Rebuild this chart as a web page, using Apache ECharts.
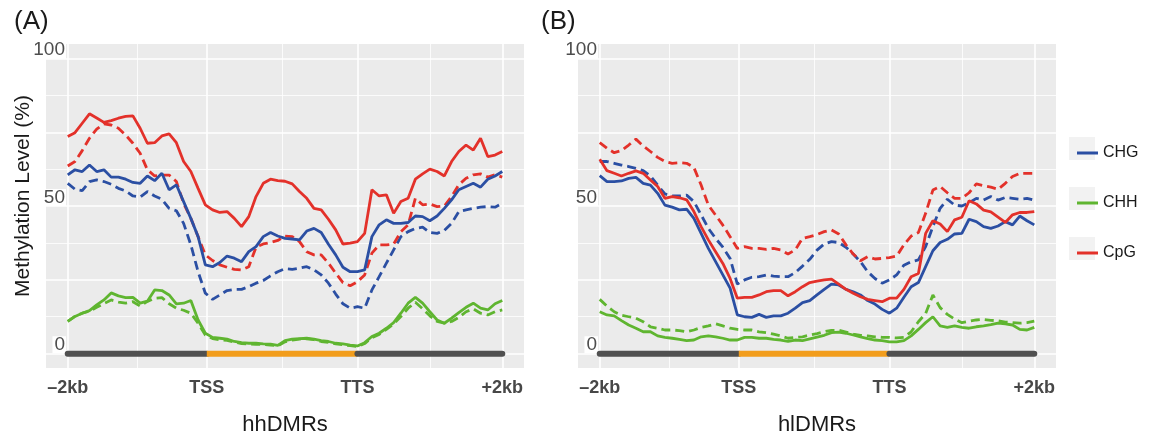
<!DOCTYPE html>
<html lang="en">
<head>
  <meta charset="UTF-8">
  <title>Methylation profile</title>
  <script src="https://cdn.jsdelivr.net/npm/echarts@6.0.0/dist/echarts.min.js"></script>
  <style>
    html, body{margin: 0;padding: 0;background: #fff;}
    #main{width: 1150px;height: 437px;}
  </style>
</head>
<body>
  <div id="main"></div>
  <script>
    // bins from -2kb (0) to +2kb (60)
    var bins = [0,1,2,3,4,5,6,7,8,9,10,11,12,13,14,15,16,17,18,19,20,21,22,23,24,25,26,27,28,29,30,
      31,32,33,34,35,36,37,38,39,40,41,42,43,44,45,46,47,48,49,50,51,52,53,54,55,56,57,58,59,60];
    var xTickPos = [0, 19.2, 40, 60];
    var xTickText = ['\u20132kb', 'TSS', 'TTS', '+2kb'];
    var yTickPos = [0, 50, 100];
    var contexts = ['CHG', 'CHH', 'CpG'];
    var genePartFrom = [0, 19.2, 40];
    var genePartTo = [19.2, 40, 60];
    var genePartType = ['flank', 'body', 'flank'];

    // (A) hhDMRs
    var hhChg = [60.6,62.3,61.7,63.9,61.7,62.3,59.8,59.8,59.1,58.0,57.7,60.2,58.6,61.1,55.5,57.2,51.5,45.8,39.6,30.0,29.4,30.8,33.0,32.3,31.1,34.5,36.2,39.6,41.0,39.8,39.0,
      38.8,38.5,41.5,42.4,41.0,37.0,33.4,29.2,27.7,27.7,28.3,39.6,43.6,45.3,44.1,44.1,44.4,46.6,46.4,45.0,46.6,49.2,52.1,55.5,56.6,57.7,56.4,59.1,60.2,61.7];
    var hhChgDash = [57.7,55.7,55.2,58.3,58.9,58.3,57.4,56.0,55.1,53.4,53.0,54.9,53.4,52.3,49.2,48.4,44.1,36.8,27.7,20.4,18.3,19.8,21.3,21.7,21.7,22.6,23.8,24.7,26.3,27.7,28.7,
      28.5,28.9,29.4,28.3,26.6,23.8,20.1,16.8,15.3,15.8,15.3,21.5,26.0,30.6,35.1,39.6,41.3,42.4,42.8,41.0,40.7,41.7,44.1,48.1,48.7,49.2,49.6,49.8,49.6,50.9];
    var hhChh = [10.8,12.5,13.6,14.5,16.4,18.1,20.5,19.5,18.9,19.0,17.0,17.7,21.5,21.3,19.8,16.8,17.0,17.9,11.3,6.8,5.4,5.1,4.8,4.0,3.6,3.4,3.4,3.2,3.1,2.7,4.3,
      4.8,5.0,5.1,4.8,4.3,4.0,3.4,3.2,2.8,2.5,3.6,5.7,6.8,8.5,10.4,13.6,17.0,19.0,17.0,14.1,11.3,10.2,11.9,13.8,15.6,17.0,15.3,14.7,16.8,17.9];
    var hhChhDash = [10.8,12.5,13.6,14.3,15.6,16.9,18.1,17.4,17.0,17.5,16.0,17.6,18.7,18.9,16.8,15.3,14.6,13.6,10.2,6.2,5.0,4.6,4.4,3.8,3.3,3.2,3.0,3.0,2.8,2.5,3.9,
      4.5,4.8,4.9,4.6,4.0,3.7,3.2,2.9,2.6,2.3,3.3,5.3,6.4,8.1,10.0,12.5,15.3,17.3,15.1,12.7,10.8,10.2,10.8,12.2,14.1,15.1,13.6,13.0,14.1,14.7];
    var hhCpg = [73.6,74.9,78.1,81.3,79.9,78.4,79.0,79.8,80.4,80.6,76.4,71.3,71.5,73.8,74.5,71.5,65.1,61.7,56.0,50.4,48.7,47.8,48.1,45.8,43.0,46.4,53.2,57.7,59.1,58.6,58.4,
      57.5,54.9,52.6,49.2,48.7,45.5,41.9,37.1,37.4,37.9,40.7,55.5,53.4,53.8,47.5,51.5,52.6,59.1,60.9,62.5,61.7,60.2,65.1,68.5,70.7,69.0,73.0,66.8,67.3,68.5];
    var hhCpgDash = [63.6,65.1,68.8,73.0,76.1,77.9,77.5,76.4,74.1,71.3,67.9,62.3,60.2,60.5,60.5,58.3,50.9,45.8,39.6,33.4,31.5,30.0,29.2,28.5,28.3,29.4,36.0,37.1,37.6,38.3,39.8,
      39.6,37.9,34.5,33.4,33.4,30.6,27.2,24.0,22.9,24.3,26.6,34.0,36.8,36.8,37.1,41.3,43.6,52.6,50.4,50.7,49.8,50.0,53.2,57.2,59.4,60.6,60.9,59.8,60.6,59.8];

    // (B) hlDMRs
    var hlChg = [60.3,58.3,58.3,58.5,59.4,59.7,57.7,57.1,54.3,50.3,49.6,48.7,48.9,45.8,40.7,35.6,31.1,26.6,22.1,13.0,12.4,12.2,13.2,12.2,12.7,12.7,13.6,15.3,17.2,17.9,19.8,
      21.7,23.5,23.2,21.7,20.9,19.8,17.9,16.7,14.9,13.6,15.3,19.0,22.6,24.0,29.4,34.8,37.6,38.7,40.5,40.7,45.5,44.7,43.0,42.4,43.2,44.7,43.6,46.6,45.0,43.6];
    var hlChgDash = [65.1,65.1,64.5,63.9,63.4,62.8,62.0,60.2,57.1,54.1,53.4,53.4,53.7,51.5,47.0,42.4,39.0,36.0,32.2,23.5,24.9,25.8,26.0,26.6,26.2,26.0,26.0,27.4,29.6,31.9,35.0,
      37.1,37.9,37.6,36.0,33.7,31.1,27.7,25.4,23.8,24.9,26.6,29.9,31.1,31.7,36.2,43.0,49.2,52.3,50.3,50.0,51.1,52.6,52.0,53.2,52.0,52.9,52.6,52.3,52.6,52.0];
    var hlChh = [14.1,13.0,12.7,11.1,9.6,8.5,7.3,7.3,5.9,5.4,5.1,4.7,4.3,4.5,5.6,5.9,5.6,5.1,4.5,4.5,5.4,5.4,5.1,5.1,4.7,4.5,4.0,4.5,4.3,4.9,5.5,
      6.1,7.0,7.2,6.8,6.2,5.6,5.0,4.5,4.3,3.9,3.9,4.3,5.9,8.1,10.4,12.4,9.3,8.8,9.3,8.8,8.5,9.0,9.3,9.7,10.2,10.0,9.6,8.1,7.9,8.8];
    var hlChhDash = [18.3,16.0,14.1,12.9,12.4,11.9,10.7,9.0,8.5,7.9,7.9,7.7,7.3,7.9,8.8,9.3,10.0,9.3,8.5,8.1,7.9,7.9,7.3,7.0,6.5,5.9,5.1,5.4,5.6,6.2,6.7,
      7.3,7.8,7.8,7.2,6.5,6.1,5.9,5.6,5.4,5.4,5.2,5.4,7.3,10.7,13.5,19.8,15.5,13.2,11.6,10.4,10.9,11.3,11.5,11.2,11.0,10.6,10.4,10.2,10.4,10.9];
    var hlCpg = [65.9,62.0,61.1,60.2,61.1,61.9,61.1,58.8,56.6,52.6,53.2,52.8,52.1,48.1,43.0,38.5,34.5,30.5,25.4,18.7,19.0,19.0,19.8,20.9,21.3,21.3,19.5,20.9,22.6,24.0,24.5,
      24.9,25.2,23.5,21.7,20.4,19.2,18.3,17.9,17.5,18.7,18.7,21.7,26.0,27.1,40.7,45.0,43.9,41.3,45.3,46.2,51.8,50.7,48.6,48.0,46.2,44.4,47.0,47.8,47.8,48.1];
    var hlCpgDash = [71.5,69.6,68.1,68.8,70.7,72.7,70.4,68.5,66.5,65.1,64.5,64.7,64.5,63.1,57.1,50.3,46.9,43.5,39.6,35.6,36.2,35.6,35.6,35.3,35.6,35.1,33.7,35.1,39.0,39.6,40.3,
      41.3,41.9,40.5,36.8,33.7,31.4,32.8,32.0,32.2,32.5,33.0,36.8,39.8,41.0,47.5,55.4,56.6,54.5,52.6,52.6,54.5,57.5,56.9,56.4,55.7,57.7,60.0,61.1,61.1,61.1];

    var colors = {CHG: '#2b4fa3', CHH: '#5fb530', CpG: '#e3312a'};
    var partColors = {flank: '#505050', body: '#f29d1c'};
    var font = '"Liberation Sans", Arial, sans-serif';

    var panels = [
      {left: 46, name: 'hhDMRs', solid: [hhChg, hhChh, hhCpg], dash: [hhChgDash, hhChhDash, hhCpgDash]},
      {left: 578, name: 'hlDMRs', solid: [hlChg, hlChh, hlCpg], dash: [hlChgDash, hlChhDash, hlCpgDash]}
    ];

    function pairs(vals){
      return bins.map(function(b, i){ return [b, vals[i]]; });
    }

    // white panel grid lines, ggplot style
    function gridLines(){
      var d = [];
      [0, 19.2, 40, 60].forEach(function(v){ d.push({xAxis: v, lineStyle: {width: 1.6}}); });
      [9.6, 29.6, 50].forEach(function(v){ d.push({xAxis: v, lineStyle: {width: 0.8}}); });
      [0, 25, 50, 75, 100].forEach(function(v){ d.push({yAxis: v, lineStyle: {width: 1.6}}); });
      [12.5, 37.5, 62.5, 87.5].forEach(function(v){ d.push({yAxis: v, lineStyle: {width: 0.8}}); });
      return d;
    }

    var grids = [], xAxes = [], yAxes = [], series = [];
    panels.forEach(function(p, k){
      grids.push({left: p.left, top: 44, width: 478, height: 324, show: true,
        backgroundColor: '#ebebeb', borderWidth: 0, containLabel: false, outerBoundsMode: 'none'});
      xAxes.push({
        type: 'value', gridIndex: k, min: -3, max: 63,
        name: p.name, nameLocation: 'middle', nameGap: 46,
        nameTextStyle: {fontSize: 22, color: '#1a1a1a', fontFamily: font},
        axisLine: {show: false},
        splitLine: {show: false},
        axisTick: {show: true, customValues: xTickPos, length: 3, lineStyle: {color: '#333', width: 1.3}},
        axisLabel: {customValues: xTickPos, margin: 11, fontSize: 18, fontWeight: 'bold', color: '#474747', fontFamily: font,
          formatter: function(v){ return xTickText[xTickPos.indexOf(v)]; }}
      });
      yAxes.push({
        type: 'value', gridIndex: k, min: -5, max: 105,
        axisLine: {show: false}, axisTick: {show: false}, splitLine: {show: false},
        axisLabel: {customValues: yTickPos, margin: -20, fontSize: 19, color: '#4d4d4d', fontFamily: font,
          verticalAlign: 'bottom', lineHeight: 17, backgroundColor: '#fff', padding: [0, 1, 0, 2]}
      });
      series.push({
        type: 'line', xAxisIndex: k, yAxisIndex: k, data: [], silent: true, z: 1,
        markLine: {symbol: ['none', 'none'], silent: true, animation: false, z: 1, label: {show: false},
          lineStyle: {color: '#fff', type: 'solid'}, data: gridLines()}
      });
      // gene model bar
      genePartType.forEach(function(t, j){
        series.push({
          type: 'line', xAxisIndex: k, yAxisIndex: k, silent: true, symbol: 'none', z: 6,
          data: [[genePartFrom[j], -0.2], [genePartTo[j], -0.2]],
          lineStyle: {color: partColors[t], width: 6, cap: t == 'flank' ? 'round' : 'butt'}
        });
      });
      contexts.forEach(function(c, j){
        series.push({
          name: c + ' dashed', type: 'line', xAxisIndex: k, yAxisIndex: k, symbol: 'none', z: 7,
          data: pairs(p.dash[j]),
          itemStyle: {color: colors[c]},
          lineStyle: {color: colors[c], width: 2.8, type: [9, 5]}
        });
      });
      contexts.forEach(function(c, j){
        series.push({
          name: c, type: 'line', xAxisIndex: k, yAxisIndex: k, symbol: 'none', z: 8,
          data: pairs(p.solid[j]),
          itemStyle: {color: colors[c]},
          lineStyle: {color: colors[c], width: 2.8}
        });
      });
    });

    var keyBoxes = contexts.map(function(c, j){
      return {type: 'rect', left: 1069, top: 137 + j * 50, shape: {width: 26, height: 23}, style: {fill: '#f2f2f2'}, z: 0};
    });

    var myChart = echarts.init(document.getElementById('main'));
    var option = {
      animation: false,
      backgroundColor: '#fff',
      grid: grids,
      xAxis: xAxes,
      yAxis: yAxes,
      legend: {
        data: contexts, orient: 'vertical', left: 1072, top: 138, itemGap: 30,
        icon: 'rect', itemWidth: 21, itemHeight: 3, selectedMode: false,
        textStyle: {fontSize: 16, color: '#1a1a1a', fontFamily: font, lineHeight: 20}
      },
      graphic: keyBoxes.concat([
        {type: 'text', left: 14, top: 9, style: {text: '(A)', font: '26px ' + font, fill: '#1a1a1a'}},
        {type: 'text', left: 541, top: 9, style: {text: '(B)', font: '26px ' + font, fill: '#1a1a1a'}},
        {type: 'text', x: 23, y: 196, rotation: Math.PI / 2,
          style: {text: 'Methylation Level (%)', font: '21px ' + font, fill: '#1a1a1a', align: 'center', verticalAlign: 'middle'}}
      ]),
      series: series
    };
    myChart.setOption(option);
  </script>
</body>
</html>
